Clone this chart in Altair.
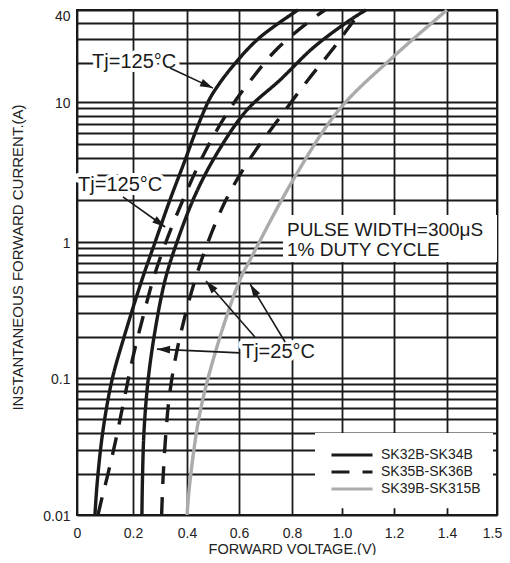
import math
import numpy as np
import pandas as pd
import altair as alt

FONT = "Liberation Sans"
INK = "#1a1a1a"

# ---------------- data ----------------
SERIES = ["SK32B-SK34B", "SK35B-SK36B", "SK39B-SK315B"]

# SK32B-SK34B, Tj=125°C  (forward voltage V, forward current A)
A_V = [0.064, 0.073, 0.093, 0.125, 0.168, 0.233, 0.282, 0.337, 0.393, 0.431, 0.481, 0.508, 0.573, 0.676, 0.824]
A_I = [0.01, 0.018, 0.0417, 0.0967, 0.20, 0.526, 1.0, 2.0, 3.85, 6.0, 10, 12.4, 18.6, 30.3, 40]
# SK35B-SK36B, Tj=125°C
B_V = [0.075, 0.089, 0.107, 0.136, 0.168, 0.20, 0.237, 0.274, 0.322, 0.396, 0.473, 0.562, 0.645, 0.747, 0.892, 0.932]
B_I = [0.01, 0.0133, 0.0186, 0.0335, 0.0691, 0.143, 0.281, 0.526, 1.0, 2.24, 4.54, 8.77, 14.8, 25.8, 37.3, 40]
# SK32B-SK34B, Tj=25°C
C_V = [0.233, 0.235, 0.241, 0.256, 0.282, 0.319, 0.363, 0.435, 0.523, 0.630, 0.755, 0.888, 1.031, 1.092]
C_I = [0.01, 0.018, 0.0417, 0.0967, 0.225, 0.526, 1.0, 2.24, 4.54, 8.77, 14.8, 26.2, 36.2, 40]
# SK35B-SK36B, Tj=25°C
D_V = [0.306, 0.311, 0.320, 0.333, 0.356, 0.389, 0.431, 0.481, 0.55, 0.638, 0.747, 0.864, 0.96, 1.027, 1.077]
D_I = [0.01, 0.018, 0.0353, 0.0691, 0.136, 0.267, 0.526, 1.0, 2.0, 3.85, 7.43, 14.8, 24.9, 33.8, 40]
# SK39B-SK315B
E_V = [0.40, 0.412, 0.45, 0.515, 0.604, 0.642, 0.804, 0.988, 1.196, 1.40]
E_I = [0.01, 0.018, 0.056, 0.169, 0.53, 0.74, 2.77, 8.8, 22.1, 40]

CURVES = [("A", SERIES[0], A_V, A_I), ("B", SERIES[1], B_V, B_I),
          ("C", SERIES[0], C_V, C_I), ("D", SERIES[1], D_V, D_I),
          ("E", SERIES[2], E_V, E_I)]

X_TICKS = [0, 0.2, 0.4, 0.6, 0.8, 1.0, 1.2, 1.4, 1.5]
Y_GRID = ([k * 0.01 for k in range(1, 10)] + [k * 0.1 for k in range(1, 10)]
          + list(range(1, 10)) + [10, 20, 30, 35, 40])
Y_LABELS = [(0.01, "0.01"), (0.1, "0.1"), (1, "1"), (10, "10"), (40, "40")]

LABEL_TEXT = ["Tj=125°C", "Tj=125°C", "Tj=25°C", "PULSE WIDTH=300μS", "1% DUTY CYCLE"]
LABEL_V = [0.054, 0.004, 0.611, 0.781, 0.781]
LABEL_I = [20.3, 2.55, 0.155, 1.22, 0.873]
LABEL_HALO = [True, True, True, False, False]

ARROW_V1 = [0.337, 0.164, 0.604, 0.66, 0.774]
ARROW_I1 = [18.3, 2.1, 0.153, 0.2, 0.184]
ARROW_V2 = [0.5, 0.319, 0.289, 0.473, 0.642]
ARROW_I2 = [12.8, 1.28, 0.163, 0.516, 0.49]

# white boxes behind the note and the legend
BOX_V1 = [0.766, 0.892]
BOX_V2 = [1.5, 1.492]
BOX_I1 = [0.713, 0.0112]
BOX_I2 = [1.56, 0.0397]

# ---------------- scale layout (the sheet's uneven grid) ----------------
X_KNOTS_PX = [0, 56, 110, 162, 215, 265, 317, 370, 420]
Y_KNOTS_I = [0.01, 0.1, 1, 10, 20, 30, 40]
Y_KNOTS_PX = [505, 368, 232, 92, 53, 29, 0]
Y_KNOTS_LOG = [round(math.log10(v), 6) for v in Y_KNOTS_I]

x_scale = alt.Scale(domain=X_TICKS, range=X_KNOTS_PX, nice=False, zero=False)
y_scale = alt.Scale(domain=Y_KNOTS_LOG, range=Y_KNOTS_PX, nice=False, zero=False)


def sx(v):
    return float(np.interp(v, X_TICKS, X_KNOTS_PX))


def sy(i):
    return float(np.interp(math.log10(i), Y_KNOTS_LOG, Y_KNOTS_PX))


# ---------------- tables ----------------
rows = []
for cid, ser, vs, cs in CURVES:
    for k, (v, c) in enumerate(zip(vs, cs)):
        rows.append({"curve": cid, "series": ser, "V": v, "I": c, "seq": k})
curves_df = pd.DataFrame(rows)

labels_df = pd.DataFrame({
    "text": LABEL_TEXT, "V": LABEL_V, "I": LABEL_I, "halo": LABEL_HALO,
    "fs": [20, 20, 20, 19, 19],
})

angles = []
for v1, i1, v2, i2 in zip(ARROW_V1, ARROW_I1, ARROW_V2, ARROW_I2):
    dx = sx(v2) - sx(v1)
    dy = sy(i2) - sy(i1)
    angles.append(math.degrees(math.atan2(dx, -dy)) % 360)
arrows_df = pd.DataFrame({"V1": ARROW_V1, "I1": ARROW_I1, "V2": ARROW_V2,
                          "I2": ARROW_I2, "ang": angles})

boxes_df = pd.DataFrame({"V1": BOX_V1, "V2": BOX_V2, "I1": BOX_I1, "I2": BOX_I2})

# ---------------- axes ----------------
y_grid_log = [round(math.log10(v), 6) for v in Y_GRID]
y_label_expr = " : ".join(
    f"abs(datum.value - ({math.log10(v):.6f})) < 0.0001 ? '{t}'" for v, t in Y_LABELS
) + " : ''"

x_axis = alt.Axis(
    values=X_TICKS,
    labelExpr="datum.value == 0 ? '0' : format(datum.value, '.1f')",
    grid=True, gridColor=INK, gridWidth=1.8,
    ticks=False, tickSize=0, domain=False,
    labelFont=FONT, labelFontSize=14, labelColor="#222", labelPadding=11,
    labelFlush=False, labelOverlap=False,
    labelOffset={"condition": {"test": "datum.value > 1.45", "value": -5}, "value": 0},
    title="FORWARD VOLTAGE.(V)", titleFont=FONT, titleFontSize=14.5,
    titleFontWeight="normal", titleColor="#222",
    titleX=215, titleY=34, titleAlign="center", titleBaseline="middle",
)
y_axis = alt.Axis(
    values=y_grid_log, labelExpr=y_label_expr,
    grid=True, gridColor=INK, gridWidth=1.8,
    ticks=False, tickSize=0, domain=False,
    labelFont=FONT, labelFontSize=14, labelColor="#222", labelPadding=7,
    labelFlush=False, labelOverlap=False,
    labelOffset={"condition": {"test": "datum.value > 1.6", "value": 6}, "value": 1},
    title="INSTANTANEOUS FORWARD CURRENT.(A)", titleFont=FONT, titleFontSize=15,
    titleFontWeight="normal", titleColor="#222",
    titleX=-60, titleY=247, titleAngle=270, titleAlign="center", titleBaseline="middle",
)

legend = alt.Legend(
    title=None, orient="none", legendX=253, legendY=436.5,
    symbolType="stroke", symbolSize=1681, symbolStrokeWidth=3,
    clipHeight=17, labelOffset=7, labelFont=FONT, labelFontSize=14,
    labelColor="#222", padding=0, rowPadding=0,
)

# ---------------- layers ----------------
boxes = alt.Chart(boxes_df).transform_calculate(
    ly1="log(datum.I1)/LN10", ly2="log(datum.I2)/LN10"
).mark_rect(fill="white", strokeWidth=0).encode(
    x=alt.X("V1:Q", scale=x_scale, axis=x_axis),
    x2="V2:Q",
    y=alt.Y("ly1:Q", scale=y_scale, axis=y_axis),
    y2="ly2:Q",
)

lines = alt.Chart(curves_df).transform_calculate(
    ly="log(datum.I)/LN10"
).mark_line(interpolate="catmull-rom", strokeWidth=3.4, strokeCap="butt").encode(
    x=alt.X("V:Q", scale=x_scale, axis=x_axis),
    y=alt.Y("ly:Q", scale=y_scale, axis=y_axis),
    detail="curve:N",
    order="seq:Q",
    color=alt.Color("series:N", scale=alt.Scale(domain=SERIES, range=[INK, INK, "#ababab"]),
                    legend=legend),
    strokeDash=alt.StrokeDash("series:N",
                              scale=alt.Scale(domain=SERIES, range=[[1, 0], [18, 13], [1, 0]]),
                              legend=legend),
)

lab_base = alt.Chart(labels_df).transform_calculate(ly="log(datum.I)/LN10")

halos = lab_base.transform_filter("datum.halo").mark_text(
    align="left", baseline="middle", font=FONT, fill="white", stroke="white",
    strokeWidth=8, strokeJoin="round",
).encode(
    x=alt.X("V:Q", scale=x_scale, axis=x_axis),
    y=alt.Y("ly:Q", scale=y_scale, axis=y_axis),
    text="text:N",
    size=alt.Size("fs:Q", scale=None),
)

texts = lab_base.mark_text(
    align="left", baseline="middle", font=FONT, color=INK,
).encode(
    x=alt.X("V:Q", scale=x_scale, axis=x_axis),
    y=alt.Y("ly:Q", scale=y_scale, axis=y_axis),
    text="text:N",
    size=alt.Size("fs:Q", scale=None),
)

arr_base = alt.Chart(arrows_df).transform_calculate(
    ly1="log(datum.I1)/LN10", ly2="log(datum.I2)/LN10"
)
shafts = arr_base.mark_rule(color=INK, strokeWidth=1.6).encode(
    x=alt.X("V1:Q", scale=x_scale, axis=x_axis),
    x2="V2:Q",
    y=alt.Y("ly1:Q", scale=y_scale, axis=y_axis),
    y2="ly2:Q",
)
heads = arr_base.mark_point(
    shape="M0,0L-0.6,2L0.6,2Z", filled=True, color=INK, opacity=1, size=169, strokeWidth=0,
).encode(
    x=alt.X("V2:Q", scale=x_scale, axis=x_axis),
    y=alt.Y("ly2:Q", scale=y_scale, axis=y_axis),
    angle=alt.Angle("ang:Q", scale=None),
)

chart = alt.layer(boxes, halos, lines, texts, shafts, heads).properties(
    width=420, height=505,
    padding={"left": 69, "top": 2, "right": 5, "bottom": 40},
    autosize=alt.AutoSizeParams(type="none"),
    background="white",
).configure_view(stroke=INK, strokeWidth=2)

chart.save("out.html", embed_options={"renderer": "svg", "actions": False})
